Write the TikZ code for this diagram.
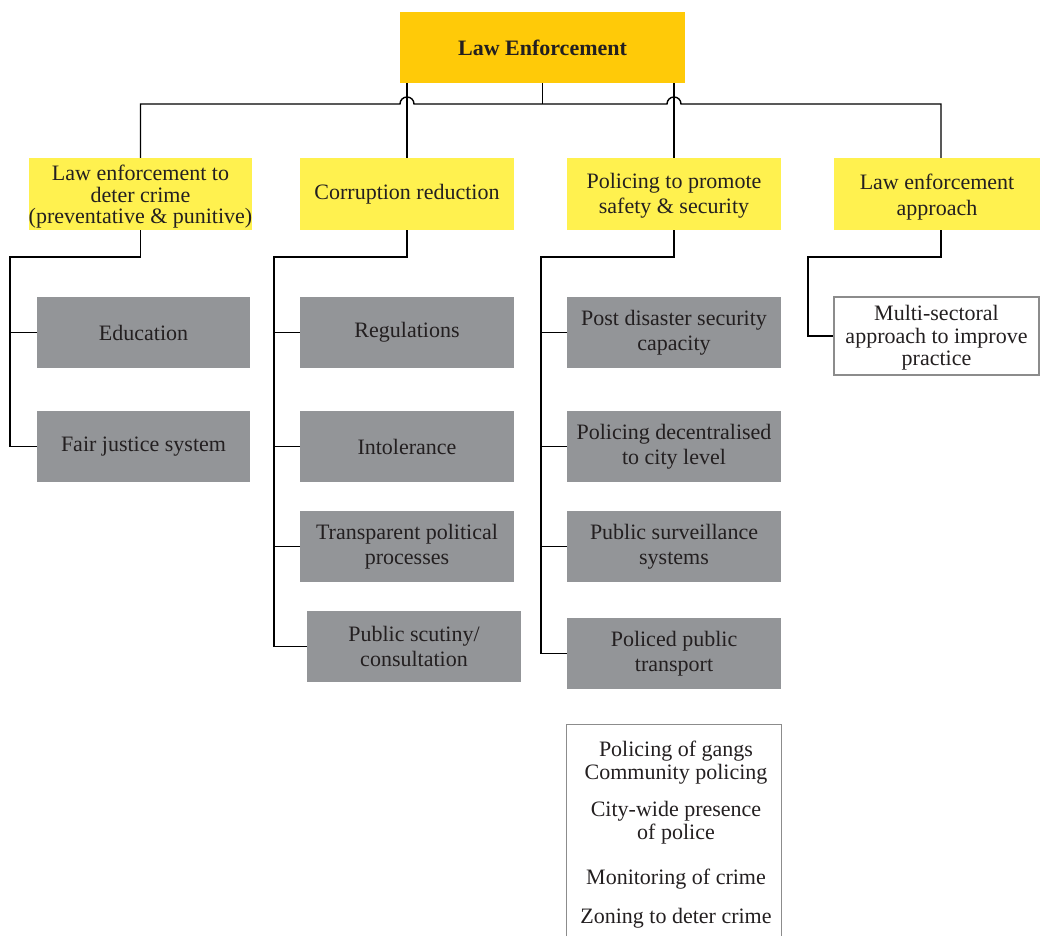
\documentclass[tikz,border=0pt]{standalone}
\usepackage{fontspec}
\setmainfont{Liberation Serif}
\usetikzlibrary{calc}
\definecolor{topcol}{HTML}{FFCA08}
\definecolor{catcol}{HTML}{FFF14F}
\definecolor{graycol}{HTML}{939598}
\definecolor{txtcol}{HTML}{231F20}
\definecolor{bordcol}{HTML}{8C8C8C}
\tikzset{
  conn/.style={draw=black, line width=1.4pt},
  topbox/.style={fill=topcol, minimum width=285pt, minimum height=71pt, inner sep=0pt, align=center, text=txtcol, font=\fontsize{22}{24}\selectfont\bfseries},
  catbox/.style={fill=catcol, minimum height=72pt, inner sep=0pt, align=center, text=txtcol, font=\fontsize{22}{25}\selectfont},
  graybox/.style={fill=graycol, minimum width=213pt, minimum height=71pt, inner sep=0pt, align=center, text=txtcol, font=\fontsize{22}{25}\selectfont},
  whitebox/.style={draw=bordcol, line width=1.3pt, fill=white, inner sep=0pt, align=center, text=txtcol, font=\fontsize{22}{23}\selectfont}
}
\begin{document}
\begin{tikzpicture}[x=1pt,y=-1pt]
\useasboundingbox (0,0) rectangle (1040,936);
% top
\node[topbox] (top) at (542.5,47.5) {Law Enforcement};
% categories
\node[catbox, minimum width=215pt, font=\fontsize{22}{21.5}\selectfont] (C1) at (140.5,194) {\\[-21.5pt]\rule{0pt}{4pt}\\Law enforcement to\\deter crime\\(preventative \& punitive)};
\node[catbox, minimum width=214pt] (C2) at (407,194) {Corruption reduction};
\node[catbox, minimum width=214pt] (C3) at (674,194) {\rule{0pt}{19pt}Policing to promote\\safety \& security};
\node[catbox, minimum width=206pt, font=\fontsize{22}{26}\selectfont] (C4) at (937,194) {\rule{0pt}{21pt}Law enforcement\\approach};
% column 1
\node[graybox] (E1) at (143.5,332.5) {Education};
\node[graybox] (E2) at (143.5,446.5) {Fair justice system};
% column 2
\node[graybox, minimum width=214pt] (R1) at (407,332.5) {Regulations};
\node[graybox, minimum width=214pt] (R2) at (407,446.5) {Intolerance};
\node[graybox, minimum width=214pt] (R3) at (407,546.5) {Transparent political\\processes};
\node[graybox, minimum width=214pt] (R4) at (414,646.5) {Public scutiny/\\consultation};
% column 3
\node[graybox, minimum width=214pt] (P1) at (674,332.5) {Post disaster security\\capacity};
\node[graybox, minimum width=214pt] (P2) at (674,446.5) {Policing decentralised\\to city level};
\node[graybox, minimum width=214pt] (P3) at (674,546.5) {Public surveillance\\systems};
\node[graybox, minimum width=214pt] (P4) at (674,653.5) {Policed public\\transport};
% column 4
\node[whitebox, minimum width=205pt, minimum height=78pt, font=\fontsize{22}{22.5}\selectfont] (M) at (936.5,336) {\rule{0pt}{19pt}Multi-sectoral\\approach to improve\\practice};
% bottom list box (open at the bottom edge)
\node[inner sep=0pt, minimum width=214pt, minimum height=211pt] (B) at (674,830.5) {};
\draw[draw=bordcol, line width=1.3pt] (B.south west) -- (B.north west) -- (B.north east) -- (B.south east);
\node[align=center, text=txtcol, font=\fontsize{22}{23.5}\selectfont, anchor=north] (BT) at (676,737) {Policing of gangs\\Community policing\\[13pt]City-wide presence\\of police\\[21pt]Monitoring of crime\\[16pt]Zoning to deter crime};
% top connectors
\coordinate (j) at (542.5,104);
\draw[conn] (top.south) -- (j);
\draw[conn] (C1.north) -- (C1.north |- j) -- ($(C2.north |- j)+(-7,0)$) arc[start angle=180, end angle=360, radius=7] -- ($(C3.north |- j)+(-7,0)$) arc[start angle=180, end angle=360, radius=7] -- (941,104) coordinate (jr) -- (jr |- C4.north);
\draw[conn] (top.south -| C2.north) -- (C2.north);
\draw[conn] (top.south -| C3.north) -- (C3.north);
% column 1 connectors
\coordinate (t1) at (10,257);
\draw[conn] (C1.south) -- (C1.south |- t1) -- (t1) -- (t1 |- E2.west) -- (E2.west);
\draw[conn] (t1 |- E1.west) -- (E1.west);
% column 2 connectors
\coordinate (t2) at (274,257);
\draw[conn] (C2.south) -- (C2.south |- t2) -- (t2) -- (t2 |- R4.west) -- (R4.west);
\draw[conn] (t2 |- R1.west) -- (R1.west);
\draw[conn] (t2 |- R2.west) -- (R2.west);
\draw[conn] (t2 |- R3.west) -- (R3.west);
% column 3 connectors
\coordinate (t3) at (541,257);
\draw[conn] (C3.south) -- (C3.south |- t3) -- (t3) -- (t3 |- P4.west) -- (P4.west);
\draw[conn] (t3 |- P1.west) -- (P1.west);
\draw[conn] (t3 |- P2.west) -- (P2.west);
\draw[conn] (t3 |- P3.west) -- (P3.west);
% column 4 connector
\coordinate (t4) at (808,257);
\draw[conn] (jr |- C4.south) -- (jr |- t4) -- (t4) -- (t4 |- M.west) -- (M.west);
\end{tikzpicture}
\end{document}
